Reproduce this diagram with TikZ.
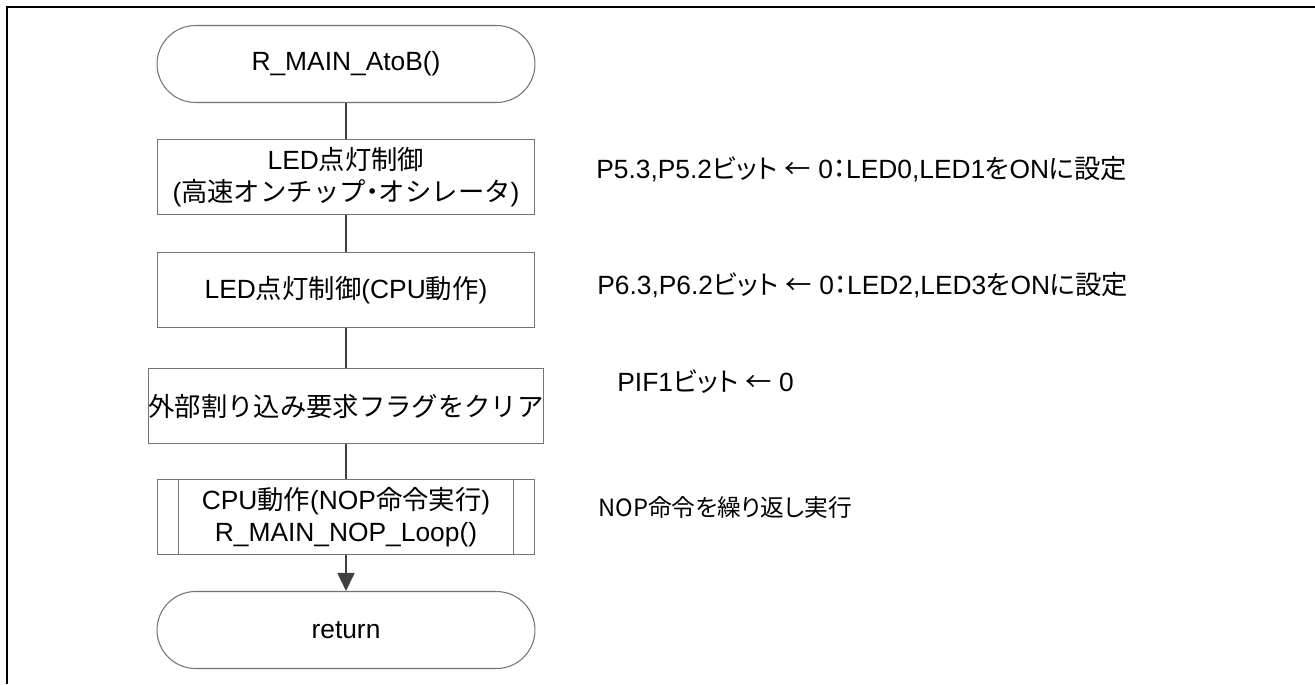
\documentclass[tikz,border=0pt]{standalone}
\usepackage{fontspec}
\setmainfont{Liberation Sans}
\newfontfamily\jp{Noto Sans CJK JP}
\newfontfamily\jpp[RawFeature=+palt]{Noto Sans CJK JP}
\usepackage{tikz}
\usetikzlibrary{calc,arrows.meta,shapes.misc}
\def\J#1{{\jp #1}}
\def\Jp#1{{\jpp #1}}
\tikzset{
	flowtext/.style={font=\fontsize{15}{18.5}\selectfont, align=center, inner sep=0},
	terminal/.style={flowtext, rounded rectangle, draw=black!55, line width=0.6pt, minimum width=7.56cm, minimum height=1.54cm},
	procbox/.style={flowtext, rectangle, draw=black!55, line width=0.6pt, minimum width=7.56cm, minimum height=1.5cm},
	note/.style={font=\fontsize{15}{18.5}\selectfont, anchor=west, inner sep=0},
	link/.style={line width=1pt, color=black!75}
}

\begin{document}
\begin{tikzpicture}[x=0.02cm, y=-0.02cm]
			%%%%% START %%%%%
			
			\useasboundingbox (0, 0) rectangle (1315, 684);
			\draw[line width=1.1pt] (7, 684) -- (7, 7) -- (1315, 7);
			
			\node[terminal] (start) at (346, 64) {R\_MAIN\_AtoB()};
			\node[procbox] (ledhoco) at (346, 177) {LED\J{点灯制御}\\(\J{高速オンチップ}\Jp{・}\J{オシレータ})};
			\node[procbox] (ledcpu) at (346, 290) {LED\J{点灯制御}(CPU\J{動作})};
			\node[procbox] (clrflag) at (346, 406) {\J{外部割り込み要求フラグをクリア}};
			\node[procbox] (noploop) at (346, 517) {CPU\J{動作}(NOP\J{命令実行})\\R\_MAIN\_NOP\_Loop()};
			\node[terminal] (ret) at (346, 630) {return};
			
			\draw[draw=black!55, line width=0.6pt] ($(noploop.north west)+(22, 0)$) -- ($(noploop.south west)+(22, 0)$);
			\draw[draw=black!55, line width=0.6pt] ($(noploop.north east)+(-22, 0)$) -- ($(noploop.south east)+(-22, 0)$);
			
			\draw[link] (start) -- (ledhoco);
			\draw[link] (ledhoco) -- (ledcpu);
			\draw[link] (ledcpu) -- (clrflag);
			\draw[link] (clrflag) -- (noploop);
			\draw[link, -{Triangle[width=0.34cm, length=0.36cm]}] (noploop) -- (ret);
			
			\node[note] (note1) at (596, 169) {P5.3,P5.2\Jp{ビット} \J{←} 0\Jp{：}LED0,LED1\Jp{を}ON\Jp{に設定}};
			\node[note] (note2) at (597, 285) {P6.3,P6.2\Jp{ビット} \J{←} 0\Jp{：}LED2,LED3\Jp{を}ON\Jp{に設定}};
			\node[note] (note3) at (617, 382) {PIF1\Jp{ビット} \J{←} 0};
			\node[note, font=\fontsize{13.5}{16}\selectfont] (note4) at (598, 507) {\jpp NOP命令を繰り返し実行};
			
			%%%%% END %%%%%
		\end{tikzpicture}
\end{document}
